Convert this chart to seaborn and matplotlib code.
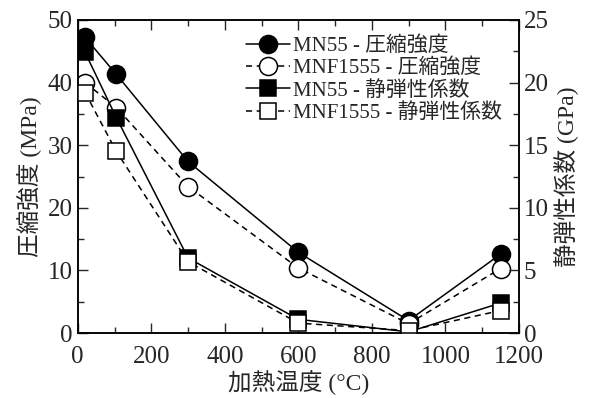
import matplotlib
matplotlib.use("Agg")
import matplotlib.pyplot as plt
import seaborn as sns
import pandas as pd
from matplotlib.ticker import MultipleLocator

temps = [20, 105, 300, 600, 900, 1150]
mn55_strength = [47.2, 41.3, 27.4, 12.9, 2.0, 12.6]
mnf1555_strength = [40.0, 36.0, 23.4, 10.4, 1.5, 10.3]
mn55_modulus = [22.4, 17.2, 6.0, 1.1, 0.1, 2.4]
mnf1555_modulus = [19.2, 14.5, 5.7, 0.8, 0.2, 1.8]

labels = ["MN55 - 圧縮強度", "MNF1555 - 圧縮強度", "MN55 - 静弾性係数", "MNF1555 - 静弾性係数"]
xlabel = "加熱温度 (°C)"
ylabel_left = "圧縮強度 (MPa)"
ylabel_right = "静弾性係数 (GPa)"

sns.set_style("ticks")
plt.rcParams['font.family'] = ['Liberation Serif', 'Noto Sans CJK JP']
plt.rcParams['axes.unicode_minus'] = False

fig = plt.figure(figsize=(5.89, 3.98), dpi=100)
ax = fig.add_axes([0.132, 0.163, 0.749, 0.787])
ax2 = ax.twinx()

df = pd.DataFrame({"t": temps, "a": mn55_strength, "b": mnf1555_strength,
                   "c": mn55_modulus, "d": mnf1555_modulus})

common = dict(color="black", linewidth=1.1, markeredgecolor="black", markeredgewidth=1.1)
sns.lineplot(data=df, x="t", y="a", ax=ax, marker="o", markersize=13,
             markerfacecolor="black", linestyle="-", label=labels[0], legend=False, **common)
sns.lineplot(data=df, x="t", y="b", ax=ax, marker="o", markersize=13,
             markerfacecolor="white", linestyle=(0, (4, 3)), label=labels[1], legend=False, **common)
sns.lineplot(data=df, x="t", y="c", ax=ax2, marker="s", markersize=11,
             markerfacecolor="black", linestyle="-", label=labels[2], legend=False, **common)
sns.lineplot(data=df, x="t", y="d", ax=ax2, marker="s", markersize=11,
             markerfacecolor="white", linestyle=(0, (4, 3)), label=labels[3], legend=False, **common)

ax.set_xlim(0, 1200)
ax.set_ylim(0, 50)
ax2.set_ylim(0, 25)
ax.xaxis.set_major_locator(MultipleLocator(200))
ax.xaxis.set_minor_locator(MultipleLocator(100))
ax.yaxis.set_major_locator(MultipleLocator(10))
ax.yaxis.set_minor_locator(MultipleLocator(5))
ax2.yaxis.set_major_locator(MultipleLocator(5))
ax2.yaxis.set_minor_locator(MultipleLocator(2.5))

for a in (ax, ax2):
    for s in a.spines.values():
        s.set_visible(True)
        s.set_linewidth(1.1)
        s.set_color("black")
ax.tick_params(axis="x", which="both", direction="in", top=True, bottom=True, labelsize=18, pad=9)
ax.tick_params(axis="y", which="both", direction="in", left=True, right=False, labelsize=18)
ax2.tick_params(axis="y", which="both", direction="in", right=True, left=False, labelsize=18)
ax.tick_params(which="major", length=7, width=1)
ax.tick_params(which="minor", length=4, width=1)
ax2.tick_params(which="major", length=7, width=1)
ax2.tick_params(which="minor", length=4, width=1)

ax.set_xlabel(xlabel, fontsize=17, labelpad=2)
ax.set_ylabel(ylabel_left, fontsize=17, labelpad=4)
ax2.set_ylabel(ylabel_right, fontsize=17, labelpad=4)

h1, l1 = ax.get_legend_handles_labels()
h2, l2 = ax2.get_legend_handles_labels()
ax2.legend(h1 + h2, l1 + l2, loc="upper right", frameon=False, fontsize=15,
           handlelength=2.1, handletextpad=0.15, labelspacing=0.12,
           bbox_to_anchor=(0.995, 0.995), borderaxespad=0.3)

fig.savefig("out.png", dpi=100)
